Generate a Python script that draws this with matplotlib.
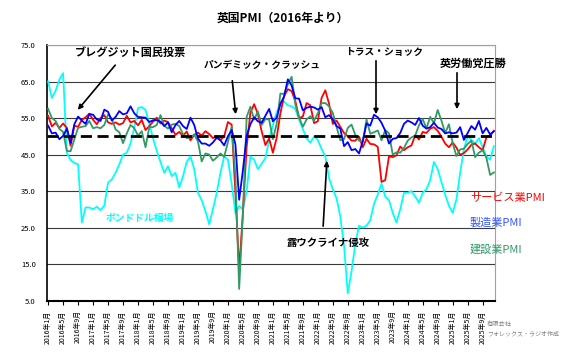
import matplotlib
matplotlib.use("Agg")
import matplotlib.pyplot as plt
import numpy as np

plt.rcParams["font.family"] = ["Noto Sans CJK JP", "DejaVu Sans"]

# ── データ（2016年1月〜2025年12月, 月次） ─────────────────────────────
years = list(range(2016, 2026))
months = [f"{y}年{m}月" for y in years for m in range(1, 13)]

services = [
    55.6, 52.7, 53.7, 52.3, 53.5, 52.3, 47.4, 52.9, 52.6, 54.5, 55.2, 56.2,
    54.5, 53.3, 55.0, 55.8, 53.8, 53.4, 53.8, 53.2, 53.6, 55.6, 53.8, 54.2,
    53.0, 54.5, 51.7, 52.8, 54.0, 55.1, 53.5, 54.3, 53.9, 52.2, 50.4, 51.2,
    50.1, 51.3, 48.9, 50.4, 51.0, 50.2, 51.4, 50.6, 49.5, 50.0, 49.0, 50.0,
    53.9, 53.2, 34.5, 13.4, 29.0, 47.1, 56.5, 58.8, 56.1, 51.4, 47.6, 49.4,
    45.5, 49.5, 56.3, 61.0, 62.9, 62.4, 59.6, 55.0, 55.4, 59.1, 58.5, 53.6,
    54.1, 60.5, 62.6, 58.9, 53.4, 54.3, 52.6, 50.9, 50.0, 48.8, 48.8, 49.9,
    47.0, 49.3, 47.9, 47.8, 47.1, 37.5, 38.0, 44.5, 44.3, 44.8, 47.2, 46.2,
    47.0, 47.5, 50.3, 49.1, 51.2, 50.9, 52.1, 52.5, 51.5, 49.9, 48.0, 47.0,
    48.3, 46.9, 44.9, 45.4, 46.4, 47.7, 48.0, 47.0, 46.2, 49.7, 50.2, 51.5,
]
manufacturing = [
    52.9, 50.8, 51.0, 49.2, 50.1, 52.1, 48.2, 53.3, 55.4, 54.3, 53.4, 56.1,
    55.9, 54.6, 54.2, 57.3, 56.7, 54.3, 55.3, 56.9, 56.0, 56.3, 58.2, 56.3,
    55.3, 55.2, 55.1, 53.9, 54.4, 54.4, 54.0, 52.8, 53.8, 51.1, 53.1, 54.2,
    52.8, 52.0, 55.1, 53.1, 49.4, 48.0, 48.0, 47.4, 48.3, 49.6, 48.9, 47.5,
    50.0, 51.7, 47.8, 32.6, 40.7, 50.1, 53.3, 55.2, 54.1, 53.7, 55.6, 57.5,
    54.1, 55.1, 58.9, 60.9, 65.6, 63.9, 60.4, 60.3, 57.1, 57.8, 58.1, 57.9,
    57.3, 58.0, 55.2, 55.8, 54.6, 52.8, 52.1, 47.3, 48.4, 46.2, 46.5, 45.3,
    48.7, 53.5, 52.9, 55.9, 55.2, 53.7, 51.5, 48.0, 49.3, 49.5, 50.9, 53.4,
    54.3, 53.8, 53.1, 55.0, 52.9, 52.1, 52.5, 53.7, 52.4, 52.0, 50.8, 51.1,
    50.8, 51.0, 52.5, 49.0, 50.9, 52.8, 51.8, 54.2, 50.8, 52.3, 50.5, 51.4,
]
construction = [
    57.5, 55.0, 54.2, 52.0, 51.2, 46.0, 45.9, 49.2, 52.3, 52.6, 52.8, 54.2,
    52.2, 52.5, 52.2, 53.1, 56.0, 54.8, 51.9, 51.1, 48.1, 50.8, 53.1, 52.2,
    50.2, 51.4, 47.0, 52.5, 52.5, 53.1, 55.8, 52.9, 52.1, 53.2, 53.4, 52.8,
    50.6, 49.5, 49.7, 50.5, 48.6, 43.1, 45.3, 45.0, 43.3, 44.2, 45.3, 44.4,
    48.4, 52.6, 39.3, 8.2, 28.9, 55.3, 58.1, 54.6, 56.8, 53.1, 54.7, 54.6,
    49.2, 53.3, 61.7, 61.6, 64.2, 66.3, 58.7, 55.2, 52.6, 54.6, 55.5, 54.3,
    56.3, 59.1, 59.1, 58.2, 56.4, 52.6, 48.9, 49.2, 52.3, 53.2, 50.4, 48.8,
    48.4, 54.6, 50.7, 51.1, 51.6, 48.9, 51.7, 50.8, 45.0, 45.6, 45.5, 46.8,
    48.8, 49.7, 50.2, 53.0, 54.7, 52.2, 55.3, 53.6, 57.2, 54.3, 50.9, 53.3,
    48.1, 44.6, 46.4, 46.6, 47.9, 48.8, 44.3, 45.5, 46.2, 44.1, 39.4, 40.1,
]
gbpusd = [
    65.0, 60.5, 62.5, 65.5, 67.3, 45.5, 43.5, 42.7, 42.3, 26.4, 30.5, 30.5,
    30.0, 30.7, 29.8, 31.0, 37.3, 38.2, 40.0, 42.3, 45.0, 45.5, 48.0, 52.5,
    57.7, 58.0, 57.2, 53.5, 49.5, 46.0, 43.0, 40.0, 41.8, 39.1, 40.0, 36.0,
    39.0, 43.0, 44.5, 41.0, 34.5, 32.5, 29.5, 25.9, 30.0, 34.5, 40.0, 44.5,
    43.6, 37.0, 29.0, 30.9, 30.0, 35.0, 44.5, 43.6, 41.0, 42.5, 44.0, 49.0,
    53.0, 56.5, 58.5, 59.5, 58.5, 58.2, 57.5, 54.5, 52.0, 49.5, 48.2, 50.0,
    49.0, 46.5, 44.5, 38.5, 35.5, 33.0, 28.0, 20.0, 7.0, 13.0, 20.5, 25.5,
    25.0, 25.5, 27.0, 31.5, 34.0, 37.0, 33.5, 32.5, 29.0, 26.4, 30.0, 34.5,
    34.5, 35.0, 33.5, 31.8, 34.5, 35.5, 38.0, 43.0, 41.0, 37.5, 34.0, 31.0,
    29.0, 32.7, 40.0, 46.5, 50.0, 49.0, 48.0, 49.5, 47.0, 44.5, 43.6, 47.3,
]

W, H = 567, 353

def fp(x, y):
    """画像ピクセル座標 → figure fraction"""
    return (x / W, 1 - y / H)


fig = plt.figure(figsize=(W / 100, H / 100), dpi=100, facecolor="white")
ax = fig.add_axes([47 / W, 1 - 300.6 / H, (495 - 47) / W, (300.6 - 45) / H])

x = np.arange(len(months))
ax.plot(x, gbpusd, color="#00FFFF", lw=1.3, zorder=3)
ax.plot(x, services, color="#FF0000", lw=1.3, zorder=4)
ax.plot(x, construction, color="#339966", lw=1.3, zorder=5)
ax.plot(x, manufacturing, color="#0000FF", lw=1.3, zorder=6)
ax.axhline(50, color="black", lw=2.0, ls=(0, (4, 2)), zorder=7)

ax.set_xlim(-0.3, len(months) - 0.7)
ax.set_ylim(5, 75)
ax.set_yticks(np.arange(5, 76, 10))
ax.set_yticklabels([f"{v:.1f}" for v in np.arange(5, 76, 10)], fontsize=5.5)
ax.yaxis.grid(True, color="#3a3a3a", lw=0.8)
ax.set_axisbelow(True)
ax.tick_params(axis="y", length=0, pad=8)

ax.set_xticks(x[::4])
ax.set_xticklabels(months[::4], rotation=90, fontsize=5)
ax.tick_params(axis="x", length=3, width=0.8, pad=4)

for s in ["top", "right"]:
    ax.spines[s].set_color("#a0a0a0")
    ax.spines[s].set_linewidth(0.8)
ax.spines["left"].set_linewidth(1.2)
ax.spines["bottom"].set_linewidth(1.5)

fig.text(*fp(283, 18), "英国PMI（2016年より）", ha="center", va="center",
         fontsize=8.5, fontweight="bold")

# ── イベント注記 ──
events = [
    ("ブレグジット国民投票", (130, 52), (117, 63), (76, 112), 8),
    ("パンデミック・クラッシュ", (262, 65), (232, 78), (236, 117), 7),
    ("トラス・ショック", (384, 52), (376, 58), (376, 117), 7),
    ("英労働党圧勝", (473, 63), (457, 70), (457, 112), 8),
    ("露ウクライナ侵攻", (328, 243), (323, 229), (327, 158), 7.5),
]
for label, tpos, start, tip, fs in events:
    fig.text(*fp(*tpos), label, ha="center", va="center",
             fontsize=fs, fontweight="bold")
    ax.annotate("", xy=fp(*tip), xytext=fp(*start),
                xycoords="figure fraction", textcoords="figure fraction",
                arrowprops=dict(arrowstyle="-|>", color="black", lw=1.2,
                                mutation_scale=7), zorder=10)

fig.text(*fp(140, 218), "ポンドドル相場", ha="center", va="center",
         fontsize=7, fontweight="bold", color="#00FFFF")
fig.text(*fp(470, 198), "サービス業PMI", ha="left", va="center",
         fontsize=8, color="#FF0000")
fig.text(*fp(470, 223), "製造業PMI", ha="left", va="center",
         fontsize=8, color="#3355FF")
fig.text(*fp(470, 250), "建設業PMI", ha="left", va="center",
         fontsize=8, color="#339966")
fig.text(*fp(487, 325), "有限会社", ha="left", va="center",
         fontsize=4.5, color="#808080")
fig.text(*fp(487, 334), "フォレックス・ラジオ作成", ha="left", va="center",
         fontsize=4.3, color="#808080")

fig.savefig("out.png", dpi=100, facecolor="white")
